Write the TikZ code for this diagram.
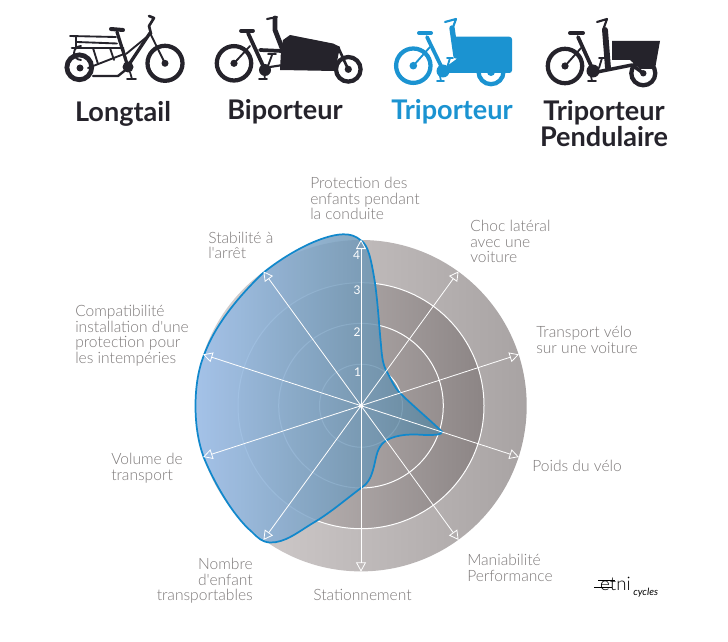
\documentclass[tikz,border=0pt]{standalone}
\usepackage{fontspec}
\setmainfont{Lato}
\newfontfamily\lblfont{Lato Light}
\usetikzlibrary{arrows.meta}
\definecolor{bikeink}{HTML}{25232B}
\definecolor{triblue}{HTML}{1B93D1}
\definecolor{lblgray}{HTML}{7C7878}
\definecolor{curveblue}{HTML}{1188CC}
\definecolor{outerlight}{HTML}{D6D1D1}
\definecolor{outermid}{HTML}{B0ABAB}
\definecolor{outerdark}{HTML}{A8A3A3}
\definecolor{innerlight}{HTML}{C4BEBE}
\definecolor{innermid}{HTML}{9A9393}
\definecolor{innerdark}{HTML}{8C8585}
\definecolor{blueleft}{HTML}{9CC0EC}
\definecolor{blueright}{HTML}{5D869D}
\tikzset{
	wheelrim/.style={draw,line width=3.2pt},
	tube/.style={draw,line width=2.8pt,line cap=round,line join=round},
	thintube/.style={draw,line width=1.4pt,line cap=round,line join=round},
	bikename/.style={inner sep=0pt,align=center,font=\fontsize{20.3}{19.5}\selectfont\bfseries},
	lbl/.style={inner sep=0pt,anchor=north west,align=left,text=lblgray,font=\fontsize{11.7}{11.6}\lblfont\selectfont},
	ringline/.style={draw=white,line width=0.75pt},
	spoke/.style={draw=white,line width=0.6pt,-{Triangle[open,length=7pt,width=7.5pt]}},
	gradnum/.style={inner sep=0pt,text=white,font=\fontsize{9}{10}\selectfont}
}
\begin{document}
\begin{tikzpicture}[x=0.75pt,y=0.75pt,yscale=-1,xscale=1]
	\useasboundingbox (0,0) rectangle (728,642);
	\begin{scope}[color=bikeink]
		\draw [wheelrim] (165,63.3) circle (17.5);
		\fill (165,63.3) circle (3.5);
		\draw [thintube] (165,63.3) -- (150,33);
		\draw [wheelrim,line width=3.6pt] (79.3,67.3) circle (12.4);
		\fill (80,68) circle (3.5);
		\draw [thintube] (81,60) arc (90:270:7);
		\draw [tube,line width=2pt] (149,16) -- (154,18) -- (149,26) -- (151,34);
		\draw [tube,line width=3pt] (111,29) -- (123,30);
		\draw [tube,line width=2.4pt] (117,32) -- (128,67);
		\draw [tube,line width=2.4pt] (128,66) -- (150,33);
		\draw [thintube] (126,54) -- (148,36);
		\draw [thintube] (70,36) -- (116,37);
		\draw [thintube] (76,37) -- (76,48);
		\draw [thintube] (77,42) -- (117,43.5);
		\draw [tube,line width=2pt] (72,48) -- (123,48);
		\draw [thintube] (93,48) -- (98,64);
		\draw [thintube] (110,48) -- (114,60);
		\draw [thintube] (88,68) -- (124,54);
		\draw [thintube] (123,48) -- (126,60);
		\draw [tube,line width=1.8pt] (93,76) -- (118,76) -- (128,68);
		\fill (128,67) circle (5.5);
		\draw [tube,line width=1.3pt] (130,72) -- (132,79) (127,79) -- (136,79);
	\end{scope}
	\begin{scope}[color=bikeink]
		\draw [wheelrim] (234,63.3) circle (17.2);
		\fill (234,63.3) circle (3.6);
		\draw [thintube] (234,63.3) -- (250,46);
		\draw [wheelrim] (348.3,69.3) circle (12.3);
		\fill (348.3,69.3) circle (3.6);
		\fill (290,35) -- (333,43.5) -- (340,47) -- (335,71) -- (280,70) -- (281,50) -- (283,40) -- cycle;
		\draw [tube,line width=2pt] (338,47) -- (348,69);
		\draw [tube,line width=1.6pt] (267,19) -- (277,17);
		\draw [tube,line width=3.6pt] (275,18) -- (275,30) -- (282,48);
		\draw [tube] (241,30.7) -- (253,30.7);
		\draw [tube] (248,33) -- (265,70);
		\draw [tube] (260,50) -- (282,51);
		\draw [thintube] (268,54) -- (276,54) (272,55) -- (268,66);
		\draw [tube,line width=1.6pt] (270,67) -- (283,65);
		\fill (265,70) circle (6);
		\draw [tube,line width=1.3pt] (264,72) -- (265,79) (259,79) -- (267,79);
	\end{scope}
	\begin{scope}[color=triblue]
		\draw [wheelrim] (413.3,65.7) circle (17.2);
		\fill (413.3,65.7) circle (3.8);
		\draw [thintube] (413.3,65.7) -- (430,47);
		\draw [wheelrim] (491,71.7) circle (12.5);
		\fill (491,72) circle (4);
		\fill [rounded corners=2pt] (453,36.7) -- (512,36.7) -- (512,73) -- (447,73) -- (447,66) -- (458,58) -- cycle;
		\draw [tube,line width=1.6pt] (445,22) -- (456,19) -- (452,30);
		\draw [tube,line width=4pt] (452,28) -- (456,56);
		\draw [tube,line width=3pt] (419,33) -- (431,33);
		\draw [tube] (427,37) -- (443,70);
		\draw [thintube] (447,58) -- (453,58) (450,58) -- (447,68);
		\fill (443,71) circle (6.5);
		\draw [tube,line width=1.3pt] (440,76) -- (441,81) (437,81) -- (444,81);
	\end{scope}
	\begin{scope}[color=bikeink]
		\draw [wheelrim] (565,66) circle (17.2);
		\fill (565,66) circle (3.6);
		\draw [thintube] (565,66) -- (581,48);
		\draw [wheelrim] (643.3,73.3) circle (12);
		\fill (643.3,73.3) circle (3.2);
		\fill (612,41) -- (660,41) -- (655,69) -- (640,69) -- (630,60) -- (612,60) -- cycle;
		\draw [tube,line width=1.6pt] (597,22) -- (607,19) -- (603,30);
		\draw [tube,line width=4.4pt] (605,30) -- (608,68);
		\draw [tube,line width=3pt] (570,33) -- (583,33);
		\draw [tube] (578,37) -- (593,70);
		\draw [thintube] (599,58) -- (605,58) (602,58) -- (599,68);
		\draw [tube,line width=2.6pt] (597,72) -- (632,65) -- (643,73);
		\fill (593,71) circle (6.5);
		\draw [tube,line width=1.3pt] (591,76) -- (592,81) (588,81) -- (596,81);
	\end{scope}
	\node (longtail) [bikename,text=bikeink,anchor=base] at (123,121) {Longtail};
	\node (biporteur) [bikename,text=bikeink,anchor=base] at (285,119) {Biporteur};
	\node (triporteur) [bikename,text=triblue,anchor=base] at (452,119) {Triporteur};
	\node (pendulaire) [bikename,text=bikeink,anchor=north] at (604,100) {Triporteur\\Pendulaire};
	\coordinate (centre) at (361,405.7);
	\shade [left color=outerlight,middle color=outermid,right color=outerdark] (centre) circle (165.7);
	\shade [left color=innerlight,middle color=innermid,right color=innerdark] (centre) circle (123);
	\draw [ringline] (centre) circle (123);
	\draw [ringline] (centre) circle (82.3);
	\draw [ringline] (centre) circle (41.5);
	\path [shade,draw=curveblue,line width=1.3pt,left color=blueleft,right color=blueright,fill opacity=0.85] (361,240.5) .. controls (368,245) and (371,258) .. (375,283) .. controls (378,305) and (379,325) .. (381,345) .. controls (382,358) and (383,365) .. (387,372) .. controls (390,377) and (394,387) .. (400,393) .. controls (412,405) and (430,420) .. (442,431.7) .. controls (442,435) and (435,435) .. (425,435) .. controls (412,434) and (398,434) .. (387,440) .. controls (379,445) and (377,452) .. (375,462) .. controls (372,475) and (370,482) .. (361,488) .. controls (345,500) and (330,513) .. (313,523) .. controls (298,532) and (285,543) .. (270,542.5) .. controls (262,542) and (258,538) .. (252,532) .. controls (232,515) and (213,480) .. (204,458) .. controls (198,442) and (195.5,424) .. (195.5,406) .. controls (195.5,388) and (198,370) .. (204,355) .. controls (215,325) and (238,297) .. (263,273) .. controls (285,255) and (320,235) .. (343,234.3) .. controls (350,234) and (356,236) .. (361,240.5) -- cycle;
	\foreach \a in {-90,-54,-18,18,54,90,126,162,198,234}
		\draw [spoke] (centre) -- ++(\a:166);
	\fill [white] (centre) circle (2);
	\node (grad1) [gradnum] at (357.5,372.5) {1};
	\node (grad2) [gradnum] at (357,332) {2};
	\node (grad3) [gradnum] at (357,290) {3};
	\node (grad4) [gradnum] at (356.5,255) {4};
	\node (protection) [lbl] at (310,177) {Protection des\\enfants pendant\\la conduite};
	\node (choc) [lbl] at (470,220) {Choc latéral\\avec une\\voiture};
	\node (transport) [lbl] at (536,326) {Transport vélo\\sur une voiture};
	\node (poids) [lbl] at (532,460) {Poids du vélo};
	\node (maniabilite) [lbl] at (467,554) {Maniabilité\\Performance};
	\node (stationnement) [lbl] at (313,589) {Stationnement};
	\node (nombre) [lbl,align=right,anchor=north east] at (253,558) {Nombre\\d'enfant\\transportables};
	\node (volume) [lbl] at (111,453) {Volume de\\transport};
	\node (compat) [lbl] at (75,305) {Compatibilité\\installation d'une\\protection pour\\les intempéries};
	\node (stabilite) [lbl] at (208,231.5) {Stabilité à\\l'arrêt};
	\draw [black,line width=0.6pt] (598,580) -- (615,580);
	\draw [black,line width=0.6pt] (594,587) -- (612,587);
	\node (etni) [inner sep=0pt,anchor=east,font=\fontsize{14}{14}\lblfont\selectfont] at (631,584) {etni};
	\node (cycles) [inner sep=0pt,anchor=west,font=\fontsize{7.5}{8}\selectfont\itshape] at (633,593) {cycles};
\end{tikzpicture}
\end{document}
